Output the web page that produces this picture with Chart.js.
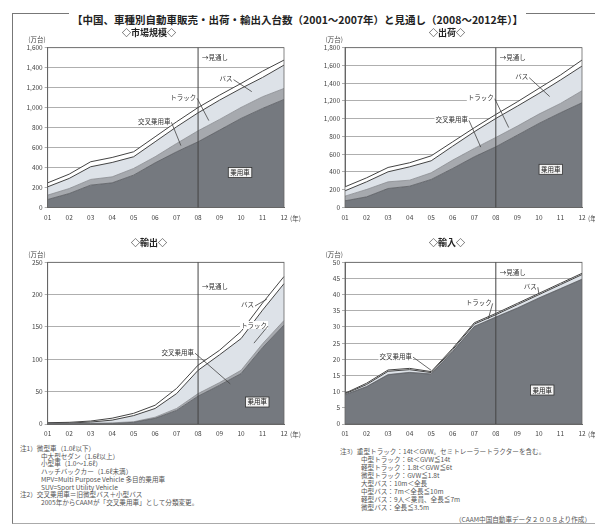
<!DOCTYPE html>
<html>
<head>
<meta charset="utf-8">
<script src="https://cdn.jsdelivr.net/npm/chart.js@4"></script>
<style>
  body { margin: 0; width: 595px; height: 526px; background: #fff; position: relative; overflow: hidden;
         font-family: "Noto Sans CJK JP", sans-serif; color: #333; }
  #frame { position: absolute; left: 12px; top: 13px; width: 583px; height: 510px;
           border-left: 1px solid #777; border-bottom: 1px solid #aaa; }
  #topline { position: absolute; left: 12px; top: 13px; width: 583px; border-top: 1px solid #777; }
  #title { position: absolute; left: 0; top: 5px; width: 595px; text-align: center; }
  #title span { background: #fff; padding: 0 3px; font-size: 10.5px; font-weight: bold; color: #222; }
  .box { position: absolute; }
  .notes { position: absolute; font-size: 6.6px; line-height: 7.7px; color: #555; white-space: nowrap; }
  .notes .ind { padding-left: 21px; }
  #src { position: absolute; right: 4px; top: 514px; font-size: 6.6px; color: #555; }
</style>
</head>
<body>
<div id="frame"></div>
<div id="topline"></div>
<div id="title"><span>【中国、車種別自動車販売・出荷・輸出入台数（2001～2007年）と見通し（2008～2012年）】</span></div>

<div class="box" style="left:14px;top:27px;width:288px;height:203px"><canvas id="c1"></canvas></div>
<div class="box" style="left:312px;top:27px;width:283px;height:203px"><canvas id="c2"></canvas></div>
<div class="box" style="left:14px;top:237px;width:288px;height:205px"><canvas id="c3"></canvas></div>
<div class="box" style="left:312px;top:237px;width:283px;height:205px"><canvas id="c4"></canvas></div>

<div class="notes" style="left:20px;top:445px">
  <div>注1）微型車（1.0ℓ以下）</div>
  <div class="ind">中大型セダン（1.6ℓ以上）</div>
  <div class="ind">小型車（1.0～1.6ℓ）</div>
  <div class="ind">ハッチバックカー（1.6ℓ未満）</div>
  <div class="ind">MPV=Multi Purpose Vehicle 多目的乗用車</div>
  <div class="ind">SUV=Sport Utility Vehicle</div>
  <div>注2）交叉乗用車＝旧微型バス＋小型バス</div>
  <div class="ind">2005年からCAAMが「交叉乗用車」として分類変更。</div>
</div>
<div class="notes" style="left:340px;top:447px;line-height:8px">
  <div>注3）重型トラック：14t＜GVW。セミトレーラートラクターを含む。</div>
  <div class="ind">中型トラック：6t＜GVW≦14t</div>
  <div class="ind">軽型トラック：1.8t＜GVW≦6t</div>
  <div class="ind">微型トラック：GVW≦1.8t</div>
  <div class="ind">大型バス：10m＜全長</div>
  <div class="ind">中型バス：7m＜全長≦10m</div>
  <div class="ind">軽型バス：9人＜乗員、全長≦7m</div>
  <div class="ind">微型バス：全長≦3.5m</div>
</div>
<div id="src">（CAAM中国自動車データ２００８より作成）</div>

<script>
const years = ['01','02','03','04','05','06','07','08','09','10','11','12'];

// 市場規模 (万台) – tops of each stacked layer
const marketCar   = [80, 140, 224, 247, 324, 447, 558, 658, 775, 892, 992, 1082];
const marketCross = [124, 190, 281, 307, 391, 508, 641, 768, 882, 1002, 1109, 1192];
const marketTruck = [207, 291, 408, 451, 508, 658, 808, 948, 1075, 1192, 1302, 1426];
const marketTotal = [247, 334, 458, 501, 558, 708, 858, 1001, 1125, 1242, 1365, 1476];

// 出荷
const shipCar   = [75, 120, 214, 240, 316, 440, 571, 684, 815, 947, 1067, 1180];
const shipCross = [128, 203, 289, 308, 391, 534, 665, 789, 917, 1052, 1172, 1315];
const shipTruck = [188, 289, 402, 458, 526, 691, 853, 1003, 1142, 1285, 1436, 1593];
const shipTotal = [233, 334, 451, 504, 582, 740, 898, 1048, 1191, 1342, 1492, 1661];

// 輸出
const expCar   = [0.2, 0.3, 0.4, 0.6, 2.6, 8.8, 21, 43, 60, 78, 118, 153];
const expCross = [0.5, 0.8, 1.2, 1.8, 3.5, 10.5, 24, 47, 64, 83, 124, 160];
const expTruck = [1, 1.5, 3, 6, 13, 24, 47, 83, 107, 132, 176, 217];
const expTotal = [2, 2.6, 4.6, 9, 16.5, 29, 55, 91, 114, 143, 187, 228];

// 輸入
const impCar   = [9.0, 11.5, 15.2, 15.9, 15.4, 22.4, 30.1, 33.0, 35.8, 38.9, 41.8, 44.7];
const impCross = [9.1, 11.6, 15.3, 16.0, 15.5, 22.5, 30.2, 33.1, 35.9, 39.0, 41.9, 44.8];
const impTruck = [9.3, 12.2, 16.3, 16.8, 15.9, 23.0, 30.9, 33.8, 36.9, 40.0, 43.1, 46.2];
const impTotal = [9.5, 12.6, 16.7, 17.2, 16.2, 23.4, 31.3, 34.2, 37.3, 40.4, 43.5, 46.6];

const cDark = '#75797f', cMid = '#a6a9ae', cLight = '#dde2e8';

// annotation layer: forecast line at 08, labels with leader lines
const notePlugin = {
  id: 'notes',
  afterDatasetsDraw(chart, args, o) {
    const { ctx, chartArea: a, scales: { x, y } } = chart;
    ctx.save();
    ctx.strokeStyle = '#666';
    ctx.lineWidth = 0.8;
    ctx.strokeRect(a.left, a.top, a.right - a.left, a.bottom - a.top);
    // forecast divider
    const fx = x.getPixelForValue(7);
    ctx.strokeStyle = '#444';
    ctx.lineWidth = 1;
    ctx.beginPath(); ctx.moveTo(fx, a.top); ctx.lineTo(fx, a.bottom); ctx.stroke();
    ctx.font = '6.5px "Noto Sans CJK JP"';
    ctx.fillStyle = '#333';
    ctx.textBaseline = 'middle';
    ctx.textAlign = 'left';
    ctx.fillText('→見通し', fx + 4, y.getPixelForValue(o.fcY));
    // leader labels
    ctx.lineWidth = 0.8;
    o.labels.forEach(l => {
      const tx = x.getPixelForValue(l.x), ty = y.getPixelForValue(l.y);
      const w = ctx.measureText(l.t).width;
      ctx.fillStyle = '#fff';
      ctx.fillRect(tx - 1, ty - 4, w + 2, 8);
      ctx.fillStyle = '#333';
      ctx.fillText(l.t, tx, ty);
      ctx.strokeStyle = '#444';
      ctx.beginPath();
      ctx.moveTo(tx + w + 1, ty + 1);
      ctx.lineTo(x.getPixelForValue(l.ex), y.getPixelForValue(l.ey));
      ctx.stroke();
    });
    // boxed label inside dark area
    const bx = x.getPixelForValue(o.box.x), by = y.getPixelForValue(o.box.y);
    const bw = ctx.measureText('乗用車').width;
    ctx.fillStyle = '#f4f4f4';
    ctx.fillRect(bx - 2, by - 5, bw + 4, 10);
    ctx.strokeStyle = '#333';
    ctx.strokeRect(bx - 2, by - 5, bw + 4, 10);
    ctx.fillStyle = '#222';
    ctx.fillText('乗用車', bx, by);
    // units
    ctx.fillStyle = '#444';
    ctx.textAlign = 'right';
    ctx.fillText('(万台)', a.left - 2, a.top - 8);
    ctx.textAlign = 'left';
    ctx.fillText('(年)', a.right + 6, a.bottom + 11);
    ctx.restore();
  }
};

function makeChart(id, title, layers, yMax, yStep, area, box, notes) {
  const ds = [
    { data: layers[0], fill: 'origin', backgroundColor: cDark, borderColor: '#5a5d62', borderWidth: 0.8 },
    { data: layers[1], fill: '-1', backgroundColor: cMid, borderColor: '#8a8d92', borderWidth: 0.8 },
    { data: layers[2], fill: '-1', backgroundColor: cLight, borderColor: '#444', borderWidth: 1 },
    { data: layers[3], fill: '-1', backgroundColor: '#ffffff', borderColor: '#444', borderWidth: 1 }
  ].map(d => Object.assign(d, { pointRadius: 0, tension: 0 }));

  new Chart(document.getElementById(id), {
    type: 'line',
    data: { labels: years, datasets: ds },
    plugins: [notePlugin],
    options: {
      responsive: true,
      maintainAspectRatio: false,
      animation: false,
      layout: { padding: { top: 0, right: box.left + box.w - area.right,
                           bottom: box.top + box.h - area.bottom - 16, left: 0 } },
      plugins: {
        legend: { display: false },
        tooltip: { enabled: false },
        title: { display: true, text: title, color: '#222',
                 padding: { top: 0, bottom: area.top - box.top - 10.8 },
                 font: { size: 9, weight: 'bold', family: '"Noto Sans CJK JP"' } },
        notes: notes
      },
      scales: {
        x: {
          offset: false,
          afterFit: s => { s.height = 16; },
          grid: { drawOnChartArea: false, color: 'rgba(0,0,0,0)', tickLength: 4 },
          border: { color: '#666' },
          ticks: { color: '#444', padding: 2, maxRotation: 0, autoSkip: false,
                   font: { size: 6.5, family: '"Noto Sans CJK JP"' } }
        },
        y: {
          min: 0, max: yMax,
          afterFit: s => { s.width = area.left - box.left; },
          grid: { color: '#8d8d8d', lineWidth: 0.7, tickLength: 3 },
          border: { color: '#666' },
          ticks: { stepSize: yStep, color: '#444', padding: 2,
                   font: { size: 6.5, family: '"Noto Sans CJK JP"' },
                   callback: v => v.toLocaleString('en-US') }
        }
      }
    }
  });
}

makeChart('c1', '◇市場規模◇', [marketCar, marketCross, marketTruck, marketTotal], 1600, 200,
  { left: 47.7, right: 284, top: 47.7, bottom: 207.5 }, { left: 14, top: 27, w: 288, h: 203 },
  { fcY: 1500, box: { x: 8.5, y: 350 },
    labels: [
      { t: 'バス', x: 8.0, y: 1290, ex: 9.5, ey: 1160 },
      { t: 'トラック', x: 5.7, y: 1103, ex: 7.5, ey: 870 },
      { t: '交叉乗用車', x: 4.2, y: 863, ex: 6.2, ey: 620 }
    ] });

makeChart('c2', '◇出荷◇', [shipCar, shipCross, shipTruck, shipTotal], 1800, 200,
  { left: 345, right: 582, top: 47.7, bottom: 207.5 }, { left: 312, top: 27, w: 283, h: 203 },
  { fcY: 1690, box: { x: 9.1, y: 430 },
    labels: [
      { t: 'バス', x: 7.9, y: 1474, ex: 9.5, ey: 1250 },
      { t: 'トラック', x: 5.7, y: 1236, ex: 7.6, ey: 900 },
      { t: '交叉乗用車', x: 4.2, y: 992, ex: 6.3, ey: 680 }
    ] });

makeChart('c3', '◇輸出◇', [expCar, expCross, expTruck, expTotal], 250, 50,
  { left: 47.7, right: 284, top: 262.3, bottom: 424 }, { left: 14, top: 237, w: 288, h: 205 },
  { fcY: 212, box: { x: 9.3, y: 34 },
    labels: [
      { t: 'バス', x: 9.0, y: 184, ex: 10.2, ey: 193 },
      { t: 'トラック', x: 9.0, y: 153, ex: 9.6, ey: 125 },
      { t: '交叉乗用車', x: 5.3, y: 111, ex: 8.5, ey: 62 }
    ] });

makeChart('c4', '◇輸入◇', [impCar, impCross, impTruck, impTotal], 50, 5,
  { left: 345, right: 582, top: 262.3, bottom: 424 }, { left: 312, top: 237, w: 283, h: 205 },
  { fcY: 46.7, box: { x: 8.7, y: 10.5 },
    labels: [
      { t: 'バス', x: 8.3, y: 42.6, ex: 9.0, ey: 40.2 },
      { t: 'トラック', x: 5.6, y: 37.6, ex: 6.65, ey: 32.5 },
      { t: '交叉乗用車', x: 1.6, y: 21, ex: 4.0, ey: 16.6 }
    ] });
</script>
</body>
</html>
